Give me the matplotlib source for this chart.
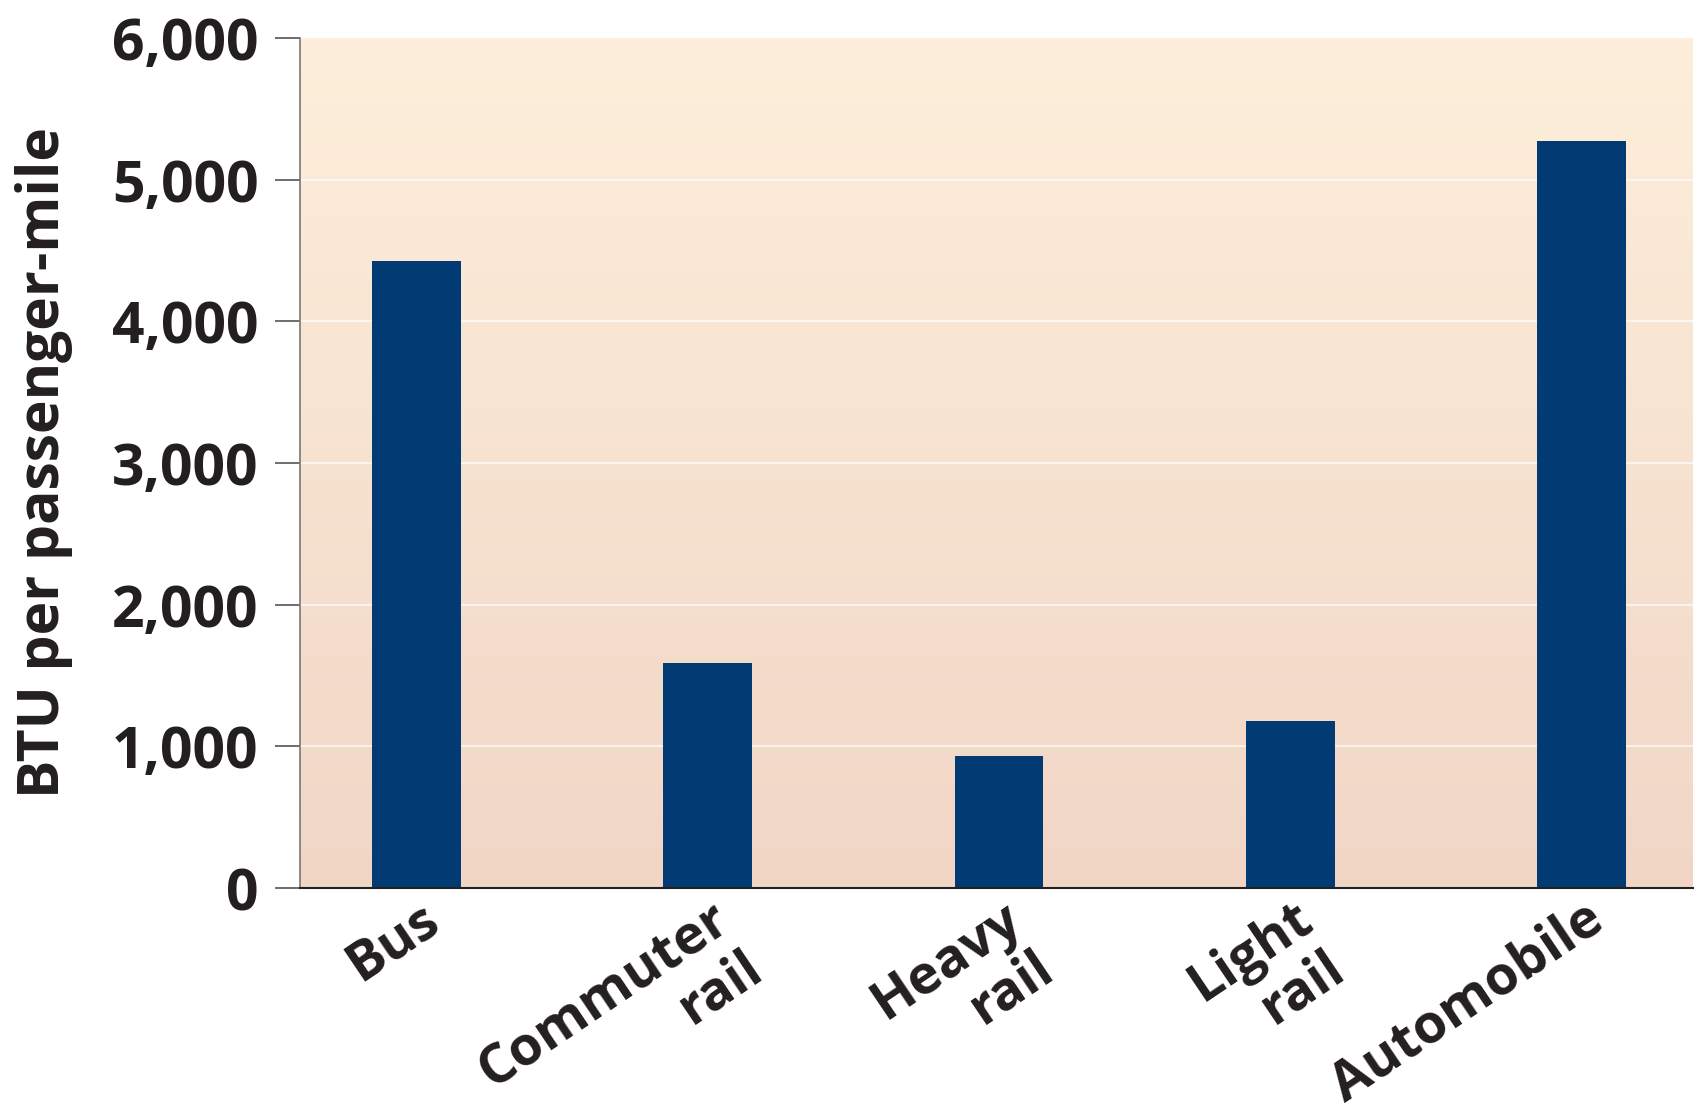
import numpy as np
import matplotlib.pyplot as plt
from matplotlib.colors import LinearSegmentedColormap
from matplotlib.transforms import ScaledTranslation

categories = ['Bus', 'Commuter\nrail', 'Heavy\nrail', 'Light\nrail', 'Automobile']
btu_per_mile = [4425, 1590, 930, 1180, 5275]
y_ticks = [0, 1000, 2000, 3000, 4000, 5000, 6000]
y_tick_labels = ['0', '1,000', '2,000', '3,000', '4,000', '5,000', '6,000']

plt.rcParams['font.family'] = ['Open Sans', 'DejaVu Sans']
plt.rcParams['font.weight'] = 'bold'

fig = plt.figure(figsize=(16.98, 11.16), dpi=100)
ax = fig.add_axes([0.1767, 0.2043, 0.8203, 0.7617])

# gradient background, cream at top to pinkish at bottom
bg = LinearSegmentedColormap.from_list('bg', ['#f1d6c6', '#fdefdb'])
grad = np.linspace(0, 1, 256).reshape(-1, 1)
ax.imshow(grad, cmap=bg, aspect='auto', origin='lower',
          extent=[0, 1, 0, 1], transform=ax.transAxes, zorder=0)

x = np.arange(len(categories))
ax.bar(x, btu_per_mile, width=0.305, color='#023a74', zorder=3)

for yv in y_ticks[1:-1]:
    ax.axhline(yv, color='white', lw=1.2, alpha=0.8, zorder=1)

ax.set_xlim(-0.4, 4.383)
ax.set_ylim(0, 6000)

ax.set_yticks(y_ticks)
ax.set_yticklabels(y_tick_labels, fontsize=41, fontweight='bold', color='#231f20')
ax.tick_params(axis='y', length=18, width=1.2, color='#555555', pad=12)

ax.set_xticks(x)
ax.set_xticklabels(categories, fontsize=39, fontweight='bold', color='#231f20',
                   rotation=34, ha='right', va='top', rotation_mode='anchor',
                   multialignment='right', linespacing=1.1)
ax.tick_params(axis='x', length=0, pad=3)
for lbl in ax.get_xticklabels():
    lbl.set_transform(lbl.get_transform() + ScaledTranslation(0.02, 0, fig.dpi_scale_trans))

ax.set_ylabel('BTU per passenger-mile', fontsize=41, fontweight='bold',
              color='#231f20', labelpad=28)

for side in ['top', 'right']:
    ax.spines[side].set_visible(False)
ax.spines['left'].set_color('#777777')
ax.spines['left'].set_linewidth(1.2)
ax.spines['bottom'].set_color('#222222')
ax.spines['bottom'].set_linewidth(1.5)
ax.spines['left'].set_zorder(4)
ax.spines['bottom'].set_zorder(4)

fig.savefig('out.png', dpi=100)
